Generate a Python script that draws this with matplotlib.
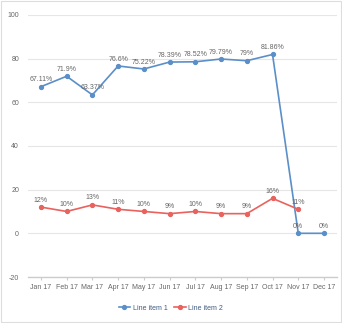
import matplotlib
matplotlib.use("Agg")
import matplotlib.pyplot as plt
from matplotlib.patches import Rectangle

months = ["Jan 17", "Feb 17", "Mar 17", "Apr 17", "May 17", "Jun 17",
          "Jul 17", "Aug 17", "Sep 17", "Oct 17", "Nov 17", "Dec 17"]
item1 = [67.11, 71.9, 63.37, 76.6, 75.22, 78.39, 78.52, 79.79, 79, 81.86, 0, 0]
item1_labels = ["67.11%", "71.9%", "63.37%", "76.6%", "75.22%", "78.39%",
                "78.52%", "79.79%", "79%", "81.86%", "0%", "0%"]
item2 = [12, 10, 13, 11, 10, 9, 10, 9, 9, 16, 11]
item2_labels = ["12%", "10%", "13%", "11%", "10%", "9%", "10%", "9%", "9%",
                "16%", "11%"]
yticks = [-20, 0, 20, 40, 60, 80, 100]

plt.rcParams["font.family"] = ["Liberation Sans", "DejaVu Sans"]
plt.rcParams["axes.unicode_minus"] = False

BLUE = "#5b8fc9"
RED = "#e8625e"
TEXT = "#666666"
FS = 5.0

fig = plt.figure(figsize=(3.42, 3.23), dpi=100)
ax = fig.add_axes([0.082, 0.1424, 0.903, 0.8116])

x1 = list(range(len(item1)))
x2 = list(range(len(item2)))
ax.plot(x1, item1, color=BLUE, lw=1.2, marker="o", markersize=2.8,
        label="Line item 1", zorder=3)
ax.plot(x2, item2, color=RED, lw=1.2, marker="o", markersize=2.8,
        label="Line item 2", zorder=3)

for x, y, s in zip(x1, item1, item1_labels):
    ax.annotate(s, (x, y), xytext=(0, 2.5), textcoords="offset points",
                ha="center", va="bottom", fontsize=FS, color=TEXT)
for x, y, s in zip(x2, item2, item2_labels):
    ax.annotate(s, (x, y), xytext=(0, 2.5), textcoords="offset points",
                ha="center", va="bottom", fontsize=FS, color=TEXT)

ax.set_xlim(-0.5, len(months) - 0.5)
ax.set_ylim(-20, 100)
ax.set_yticks(yticks)
ax.set_xticks(x1)
ax.set_xticklabels(months)
ax.grid(axis="y", color="#e6e6e6", lw=0.8)
ax.set_axisbelow(True)
for side in ["top", "right", "left"]:
    ax.spines[side].set_visible(False)
ax.spines["bottom"].set_color("#cccccc")
ax.spines["bottom"].set_linewidth(1.0)
ax.tick_params(axis="x", colors="#cccccc", length=2.5, width=0.8,
               labelsize=FS, labelcolor=TEXT, pad=2.5)
ax.tick_params(axis="y", length=0, labelsize=FS, labelcolor=TEXT, pad=6.5)

leg = fig.legend(loc="center", bbox_to_anchor=(0.5, 0.046), ncol=2,
                 frameon=False, fontsize=FS, handlelength=1.6,
                 columnspacing=1.0, handletextpad=0.4)
for t in leg.get_texts():
    t.set_color("#3d5a80")

fig.patches.append(Rectangle((0.003, 0.003), 0.994, 0.994,
                             transform=fig.transFigure, fill=False,
                             edgecolor="#dddddd", lw=0.8))

fig.savefig("out.png", dpi=100)
